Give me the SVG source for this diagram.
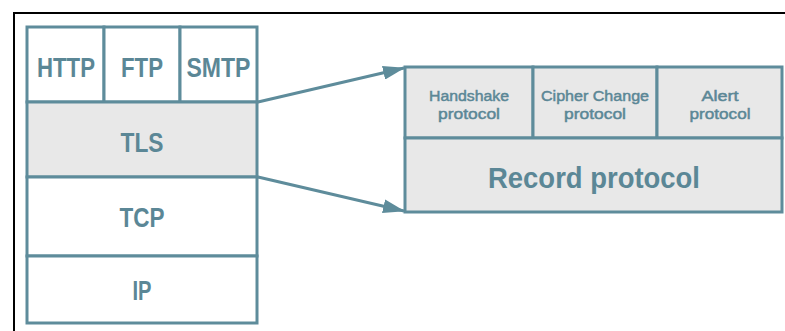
<svg xmlns="http://www.w3.org/2000/svg" width="785" height="331" viewBox="0 0 785 331">
<style>
.box{fill:#fff;stroke:#5e8c9b;stroke-width:3}
.grey{fill:#e8e8e8;stroke:#5e8c9b;stroke-width:3}
.ln{fill:none;stroke:#5e8c9b;stroke-width:3}
.t{font-family:"Liberation Sans","Arial",sans-serif;font-weight:700;fill:#5b8796;text-anchor:middle}
.big{font-size:27px}
.sm{font-size:15.5px;font-weight:400;stroke:#5b8796;stroke-width:0.5}
.rec{font-size:30px}
</style>
<defs>
<marker id="arr" markerWidth="22" markerHeight="14" refX="21" refY="7" orient="auto" markerUnits="userSpaceOnUse">
<path d="M0,0 L22,7 L0,14 Z" fill="#5e8c9b"/>
</marker>
</defs>
<path d="M14,331 V13 H785" fill="none" stroke="#000" stroke-width="2"/>
<g id="left-stack">
<g id="http"><rect class="box" x="27" y="27" width="77" height="75"/><text class="t big" x="66" y="77" textLength="58" lengthAdjust="spacingAndGlyphs">HTTP</text></g>
<g id="ftp"><rect class="box" x="104" y="27" width="76" height="75"/><text class="t big" x="142" y="77" textLength="42" lengthAdjust="spacingAndGlyphs">FTP</text></g>
<g id="smtp"><rect class="box" x="180" y="27" width="77" height="75"/><text class="t big" x="218.5" y="77" textLength="64" lengthAdjust="spacingAndGlyphs">SMTP</text></g>
<g id="tls"><rect class="grey" x="27" y="102" width="230" height="75"/><text class="t big" x="142" y="152" textLength="43" lengthAdjust="spacingAndGlyphs">TLS</text></g>
<g id="tcp"><rect class="box" x="27" y="177" width="230" height="79"/><text class="t big" x="142" y="227" textLength="45" lengthAdjust="spacingAndGlyphs">TCP</text></g>
<g id="ip"><rect class="box" x="27" y="256" width="230" height="67"/><text class="t big" x="142" y="300" textLength="19" lengthAdjust="spacingAndGlyphs">IP</text></g>
</g>
<g id="tls-detail">
<g id="handshake"><rect class="grey" x="405" y="67" width="128" height="71"/><text class="t sm" x="469" y="101" textLength="80" lengthAdjust="spacingAndGlyphs">Handshake</text><text class="t sm" x="469" y="119" textLength="62" lengthAdjust="spacingAndGlyphs">protocol</text></g>
<g id="cipher"><rect class="grey" x="533" y="67" width="124" height="71"/><text class="t sm" x="595" y="101" textLength="108" lengthAdjust="spacingAndGlyphs">Cipher Change</text><text class="t sm" x="595" y="119" textLength="62" lengthAdjust="spacingAndGlyphs">protocol</text></g>
<g id="alert"><rect class="grey" x="657" y="67" width="125" height="71"/><text class="t sm" x="720" y="101" textLength="37" lengthAdjust="spacingAndGlyphs">Alert</text><text class="t sm" x="720" y="119" textLength="61" lengthAdjust="spacingAndGlyphs">protocol</text></g>
<g id="record"><rect class="grey" x="405" y="138" width="377" height="74"/><text class="t rec" x="594" y="188" textLength="212" lengthAdjust="spacingAndGlyphs">Record protocol</text></g>
</g>
<g id="connectors">
<line class="ln" x1="258" y1="102" x2="404" y2="68" marker-end="url(#arr)"/>
<line class="ln" x1="258" y1="177" x2="404" y2="211" marker-end="url(#arr)"/>
</g>
</svg>
